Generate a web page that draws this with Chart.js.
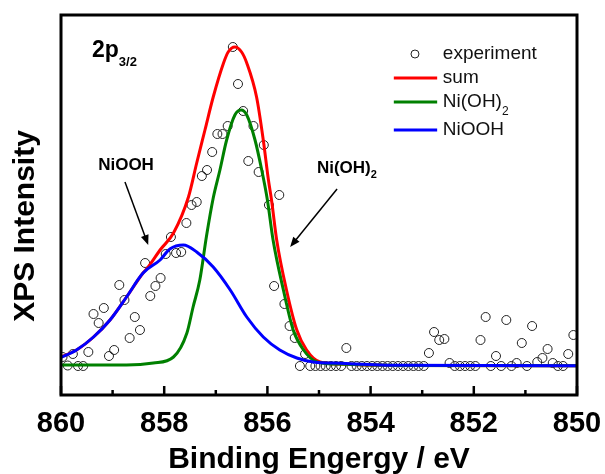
<!DOCTYPE html>
<html>
<head>
<meta charset="utf-8">
<script src="https://cdn.jsdelivr.net/npm/chart.js@4.4.0/dist/chart.umd.min.js"></script>
<style>
  html, body { margin: 0; padding: 0; background: #fff; }
  #wrap { width: 605px; height: 474px; }
</style>
</head>
<body>
<div id="wrap"><canvas id="xps" width="605" height="474"></canvas></div>
<script>
// Experimental points (binding energy in eV, intensity in arb. units)
const expE = [
  859.97, 859.87, 859.77, 859.67, 859.57, 859.47, 859.37, 859.27, 859.17, 859.07,
  858.97, 858.87, 858.77, 858.67, 858.57, 858.47, 858.37, 858.27, 858.17, 858.07,
  857.97, 857.87, 857.77, 857.67, 857.57, 857.47, 857.37, 857.27, 857.17, 857.07,
  856.97, 856.87, 856.77, 856.67, 856.57, 856.47, 856.37, 856.27, 856.17, 856.07,
  855.97, 855.87, 855.77, 855.67, 855.57, 855.47, 855.37, 855.27, 855.17, 855.07,
  854.97, 854.87, 854.77, 854.67, 854.57, 854.47, 854.37, 854.27, 854.17, 854.07,
  853.97, 853.87, 853.77, 853.67, 853.57, 853.47, 853.37, 853.27, 853.17, 853.07,
  852.97, 852.87, 852.77, 852.67, 852.57, 852.47, 852.37, 852.27, 852.17, 852.07,
  851.97, 851.87, 851.77, 851.67, 851.57, 851.47, 851.37, 851.27, 851.17, 851.07,
  850.97, 850.87, 850.77, 850.67, 850.57, 850.47, 850.37, 850.27, 850.17, 850.07
];
const expI = [
  9, 0.5, 12, 0, 0, 14, 52, 43, 58, 10,
  16, 81, 66, 28, 49, 36, 103, 70, 80, 88,
  112, 129, 113, 114, 143, 161, 164, 190, 196, 214,
  232, 232, 240, 319, 282, 255, 205, 240, 194, 221,
  161, 80, 171, 62, 40, 28, 0, 12, 0, 0,
  0, 0, 0, 0, 0, 18, 0, 0, 0, 0,
  0, 0, 0, 0, 0, 0, 0, 0, 0, 0,
  0, 13, 34, 26, 27, 3, 0, 0, 0, 0,
  0, 26, 49, 0, 10, 0, 46, 0, 3, 23,
  0, 40, 4, 8, 17, 3, 0, 0, 12, 31
];

// Fitted envelope (sum)
const sumE = [860, 859.70, 859.37, 859.05, 858.73, 858.41, 858.31, 858.08, 857.82, 857.53,
  857.37, 857.21, 857.05, 856.85, 856.76, 856.63, 856.50, 856.40, 856.21, 856.08,
  855.98, 855.92, 855.82, 855.63, 855.43, 855.24, 854.98, 854.59, 853.43, 850];
const sumI = [9, 16, 29, 46, 69, 93, 99, 116, 133, 169,
  203, 236, 269, 303, 314, 319, 314, 303, 269, 226,
  186, 166, 126, 76, 36, 16, 4, 2, 0.5, 0.3];

// Ni(OH)2 component
const nioh2E = [860, 858.73, 858.21, 857.82, 857.56, 857.44, 857.31, 857.18, 857.05, 856.92,
  856.79, 856.63, 856.51, 856.40, 856.24, 856.11, 856.00, 855.89, 855.69, 855.50,
  855.30, 855.04, 854.66, 853.43, 850];
const nioh2I = [1, 1, 3, 9, 33, 59, 86, 130, 168, 196,
  226, 251, 256, 251, 226, 196, 166, 126, 76, 36,
  16, 4, 2, 0.5, 0.3];

// NiOOH component
const niooE = [860, 859.70, 859.37, 859.05, 858.73, 858.41, 858.08, 857.89, 857.63, 857.37,
  857.05, 856.72, 856.40, 856.08, 855.76, 855.43, 855.11, 854.59, 853.43, 850];
const niooI = [8.5, 16, 29, 46, 69, 93, 106, 117, 121, 114,
  99, 76, 49, 29, 16, 8, 4, 2.7, 0.7, 0.3];

const xTicks = [860, 858, 856, 854, 852, 850];
const minorTicks = [859, 857, 855, 853, 851];

const FONT = '"Liberation Sans", Arial, sans-serif';
const RED = '#ff0000', GREEN = '#008000', BLUE = '#0000ff';

const pts = (xs, ys) => xs.map((v, i) => ({ x: v, y: ys[i] }));

function arrow(ctx, x1, y1, x2, y2) {
  const ang = Math.atan2(y2 - y1, x2 - x1);
  const head = 10, half = 4;
  ctx.beginPath();
  ctx.moveTo(x1, y1);
  ctx.lineTo(x2 - Math.cos(ang) * head * 0.8, y2 - Math.sin(ang) * head * 0.8);
  ctx.stroke();
  ctx.beginPath();
  ctx.moveTo(x2, y2);
  ctx.lineTo(x2 - Math.cos(ang) * head - Math.sin(ang) * half, y2 - Math.sin(ang) * head + Math.cos(ang) * half);
  ctx.lineTo(x2 - Math.cos(ang) * head + Math.sin(ang) * half, y2 - Math.sin(ang) * head - Math.cos(ang) * half);
  ctx.closePath();
  ctx.fill();
}

const decorations = {
  id: 'decorations',
  afterDraw(chart) {
    const { ctx, chartArea: a, scales: { x, y } } = chart;
    const X = v => x.getPixelForValue(v), Y = v => y.getPixelForValue(v);
    ctx.save();
    ctx.fillStyle = '#000';
    ctx.strokeStyle = '#000';

    // inward ticks on the bottom axis
    ctx.lineWidth = 2.5;
    xTicks.forEach(v => {
      ctx.beginPath(); ctx.moveTo(X(v), a.bottom); ctx.lineTo(X(v), a.bottom - 9); ctx.stroke();
    });
    minorTicks.forEach(v => {
      ctx.beginPath(); ctx.moveTo(X(v), a.bottom); ctx.lineTo(X(v), a.bottom - 5); ctx.stroke();
    });

    // frame
    ctx.lineWidth = 3;
    ctx.strokeRect(a.left, a.top, a.right - a.left, a.bottom - a.top);

    // y title
    ctx.save();
    ctx.translate(26, 226);
    ctx.rotate(-Math.PI / 2);
    ctx.font = 'bold 30px ' + FONT;
    ctx.textAlign = 'center';
    ctx.textBaseline = 'middle';
    ctx.fillText('XPS Intensity', 0, 0);
    ctx.restore();

    // 2p3/2 label
    ctx.textAlign = 'left';
    ctx.textBaseline = 'alphabetic';
    ctx.font = 'bold 23px ' + FONT;
    ctx.fillText('2p', X(859.40), Y(309));
    const w2p = ctx.measureText('2p').width;
    ctx.font = 'bold 13px ' + FONT;
    ctx.fillText('3/2', X(859.40) + w2p, Y(300));

    // peak labels and arrows
    ctx.font = 'bold 17px ' + FONT;
    ctx.fillText('NiOOH', X(859.28), Y(196));
    ctx.fillText('Ni(OH)', X(855.04), Y(193));
    const wNi = ctx.measureText('Ni(OH)').width;
    ctx.font = 'bold 11px ' + FONT;
    ctx.fillText('2', X(855.04) + wNi, Y(188));
    ctx.lineWidth = 1.5;
    arrow(ctx, X(858.76), Y(184), X(858.31), Y(121));
    arrow(ctx, X(854.65), Y(177), X(855.56), Y(119));

    // legend
    const lx0 = X(853.55), lx1 = X(852.71), tx = X(852.60);
    ctx.lineWidth = 1;
    ctx.strokeStyle = '#222';
    ctx.beginPath(); ctx.arc(X(853.14), Y(312), 4, 0, Math.PI * 2); ctx.stroke();
    ctx.font = '19px ' + FONT;
    ctx.textBaseline = 'middle';
    ctx.fillStyle = '#111';
    ctx.fillText('experiment', tx, Y(312));
    [[RED, 288, 'sum'], [GREEN, 264, 'Ni(OH)'], [BLUE, 236, 'NiOOH']].forEach(([c, v, t]) => {
      ctx.strokeStyle = c; ctx.lineWidth = 3;
      ctx.beginPath(); ctx.moveTo(lx0, Y(v)); ctx.lineTo(lx1, Y(v)); ctx.stroke();
      ctx.font = '19px ' + FONT;
      ctx.fillText(t, tx, Y(v));
    });
    ctx.font = '19px ' + FONT;
    const wLeg = ctx.measureText('Ni(OH)').width;
    ctx.font = '12px ' + FONT;
    ctx.textBaseline = 'alphabetic';
    ctx.fillText('2', tx + wLeg, Y(264) + 13);
    ctx.restore();
  }
};

const lineSet = (label, xs, ys, color, order) => ({
  label, data: pts(xs, ys), showLine: true, borderColor: color, borderWidth: 3,
  pointRadius: 0, fill: false, cubicInterpolationMode: 'monotone', order
});

new Chart(document.getElementById('xps'), {
  type: 'scatter',
  data: {
    datasets: [
      {
        label: 'experiment', data: pts(expE, expI), showLine: false,
        pointRadius: 4.5, pointBorderWidth: 1, pointBorderColor: '#222',
        pointBackgroundColor: 'rgba(0,0,0,0)', order: 4
      },
      lineSet('sum', sumE, sumI, RED, 3),
      lineSet('Ni(OH)2', nioh2E, nioh2I, GREEN, 2),
      lineSet('NiOOH', niooE, niooI, BLUE, 1)
    ]
  },
  options: {
    responsive: false,
    animation: false,
    devicePixelRatio: 1,
    layout: { padding: { top: 15, right: 28, left: 0, bottom: 0 } },
    plugins: { legend: { display: false }, tooltip: { enabled: false } },
    scales: {
      x: {
        type: 'linear', reverse: true, min: 850, max: 860,
        afterBuildTicks: s => { s.ticks = xTicks.map(v => ({ value: v })); },
        afterFit: s => { s.height = 79; s.paddingLeft = 0; s.paddingRight = 0; },
        grid: { display: false, drawTicks: false },
        border: { display: false },
        ticks: { color: '#000', padding: 12, font: { family: FONT, size: 29, weight: 'bold' } },
        title: {
          display: true, text: 'Binding Engergy / eV', color: '#000',
          font: { family: FONT, size: 30, weight: 'bold', lineHeight: 1 },
          padding: { top: 0, bottom: -1 }
        }
      },
      y: {
        min: -29, max: 351,
        afterFit: s => { s.width = 61; },
        grid: { display: false, drawTicks: false },
        border: { display: false },
        ticks: { display: false }
      }
    }
  },
  plugins: [decorations]
});
</script>
</body>
</html>
